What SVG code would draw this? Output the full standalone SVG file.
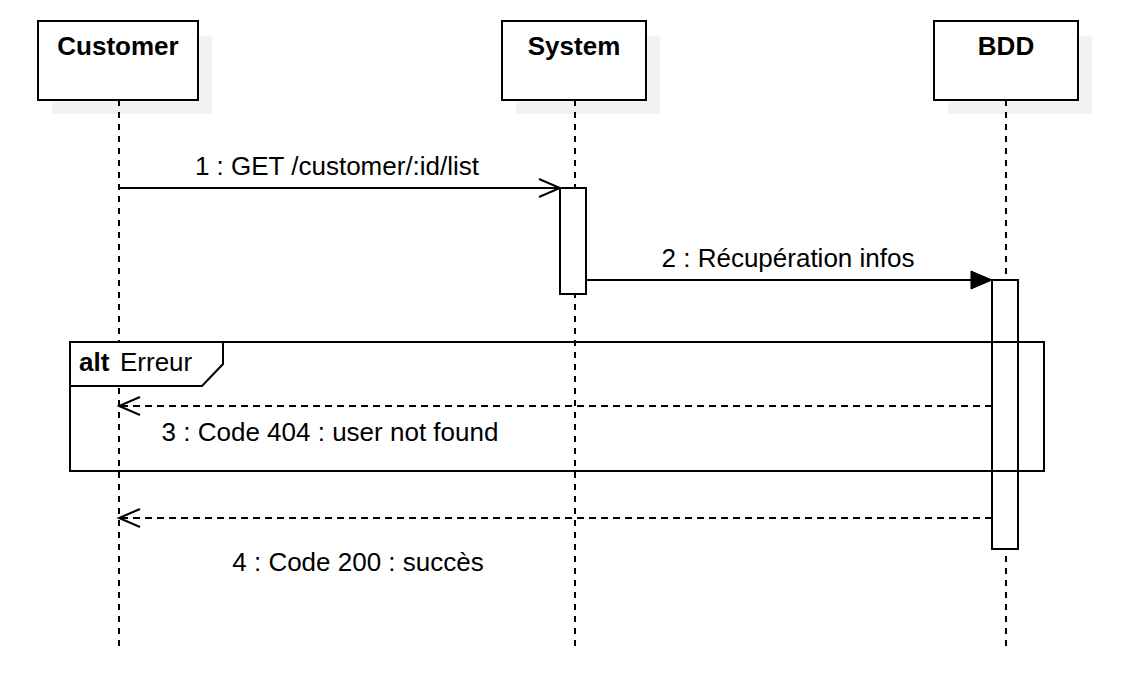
<svg xmlns="http://www.w3.org/2000/svg" width="1124" height="676" viewBox="0 0 1124 676">
<style>
.shadow{fill:#f2f2f2;stroke:none}
.box{fill:#fff;stroke:#000;stroke-width:2}
.life{stroke:#000;stroke-width:2;stroke-dasharray:6 6;fill:none}
.act{fill:#fff;stroke:#000;stroke-width:2}
.msg{stroke:#000;stroke-width:2;fill:none}
.dash{stroke-dasharray:7 5}
.t{font-family:"Liberation Sans",Arial,sans-serif;font-size:26px;fill:#000}
.b{font-weight:bold}
</style>
<defs>
<marker id="open" markerUnits="userSpaceOnUse" markerWidth="26" markerHeight="22" refX="22" refY="10" orient="auto">
<path d="M1,1 L22,10 L1,19" fill="none" stroke="#000" stroke-width="2"/>
</marker>
<marker id="fill" markerUnits="userSpaceOnUse" markerWidth="26" markerHeight="22" refX="22" refY="10" orient="auto">
<path d="M1,1 L22,10 L1,19 Z" fill="#000" stroke="#000" stroke-width="1"/>
</marker>
</defs>
<rect width="1124" height="676" fill="#fff"/>
<g id="customer">
<rect class="shadow" x="52" y="36" width="160" height="78"/>
<line class="life" x1="119" y1="100" x2="119" y2="646"/>
<rect class="box" x="38" y="21" width="160" height="79"/>
<text class="t b" x="118" y="55" text-anchor="middle">Customer</text>
</g>
<g id="system">
<rect class="shadow" x="516" y="36" width="144" height="78"/>
<line class="life" x1="575" y1="100" x2="575" y2="646"/>
<rect class="box" x="502" y="21" width="144" height="79"/>
<text class="t b" x="574" y="55" text-anchor="middle">System</text>
<rect class="act" x="560" y="188" width="26" height="106"/>
</g>
<g id="bdd">
<rect class="shadow" x="948" y="36" width="144" height="78"/>
<line class="life" x1="1006" y1="100" x2="1006" y2="646"/>
<rect class="box" x="934" y="21" width="144" height="79"/>
<text class="t b" x="1006" y="55" text-anchor="middle">BDD</text>
<rect class="act" x="992" y="280" width="26" height="269"/>
</g>
<g id="connectors">
<line class="msg" x1="119" y1="188" x2="560" y2="188" marker-end="url(#open)"/>
<text class="t" x="337" y="175" text-anchor="middle">1 : GET /customer/:id/list</text>
<line class="msg" x1="586" y1="280" x2="992" y2="280" marker-end="url(#fill)"/>
<text class="t" x="788" y="267" text-anchor="middle">2 : Récupération infos</text>
<line class="msg dash" x1="992" y1="406" x2="119" y2="406" marker-end="url(#open)"/>
<text class="t" x="330" y="441" text-anchor="middle">3 : Code 404 : user not found</text>
<line class="msg dash" x1="992" y1="518" x2="119" y2="518" marker-end="url(#open)"/>
<text class="t" x="358" y="571" text-anchor="middle">4 : Code 200 : succès</text>
</g>
<g id="alt">
<rect x="70" y="342" width="974" height="129" fill="none" stroke="#000" stroke-width="2"/>
<path d="M70,342 L223,342 L223,364 L202,386 L70,386 Z" fill="#fff" stroke="#000" stroke-width="2"/>
<text class="t b" x="79" y="371">alt</text>
<text class="t" x="120" y="371">Erreur</text>
</g>
</svg>
